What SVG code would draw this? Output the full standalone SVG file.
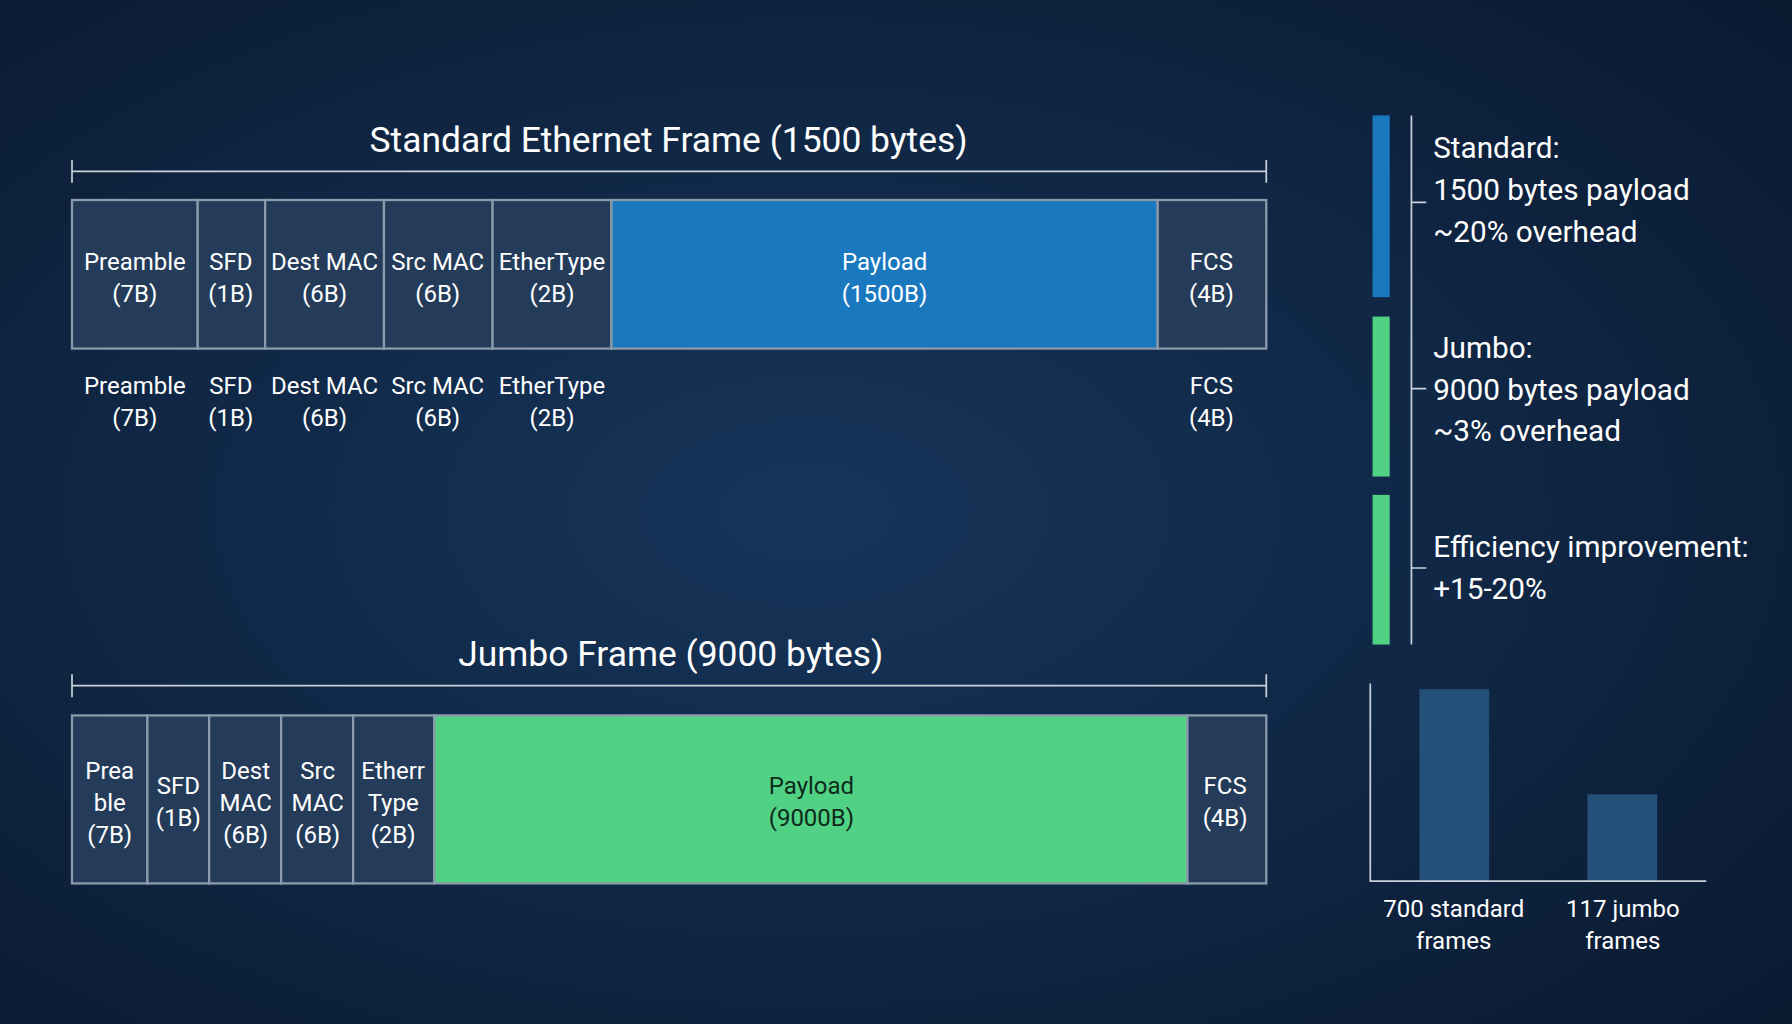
<svg xmlns="http://www.w3.org/2000/svg" width="1792" height="1024" viewBox="0 0 1792 1024">
<defs>
<radialGradient id="bg" cx="0.45" cy="0.5" r="0.75">
<stop offset="0" stop-color="#16355a"/><stop offset="1" stop-color="#0a1930"/>
</radialGradient>
<style>
text{font-family:Roboto,"Liberation Sans",sans-serif;fill:#fff;text-anchor:middle}
.t{font-size:21px}
.h{font-size:31px}
.r{font-size:26px;text-anchor:start}
.c{fill:#243c5a;stroke:#8b9bab;stroke-width:2}
.ln{stroke:#c8d0d8;stroke-width:1.5;fill:none}
.dk{fill:#0d2036}
</style>
</defs>
<rect width="1792" height="1024" fill="url(#bg)"/>
<g transform="scale(1.142857)">
<g id="standard">
<text class="h" x="585" y="133">Standard Ethernet Frame (1500 bytes)</text>
<path class="ln" d="M63 150H1108M63 140V160M1108 140V160"/>
<rect class="c" x="63" y="175" width="110" height="130"/>
<rect class="c" x="173" y="175" width="59" height="130"/>
<rect class="c" x="232" y="175" width="104" height="130"/>
<rect class="c" x="336" y="175" width="95" height="130"/>
<rect class="c" x="431" y="175" width="104" height="130"/>
<rect x="535" y="175" width="478" height="130" fill="#1a78bf" stroke="#8b9bab" stroke-width="2"/>
<rect class="c" x="1013" y="175" width="95" height="130"/>
<g class="t">
<text x="118" y="236">Preamble</text><text x="118" y="264">(7B)</text>
<text x="202" y="236">SFD</text><text x="202" y="264">(1B)</text>
<text x="284" y="236">Dest MAC</text><text x="284" y="264">(6B)</text>
<text x="383" y="236">Src MAC</text><text x="383" y="264">(6B)</text>
<text x="483" y="236">EtherType</text><text x="483" y="264">(2B)</text>
<text x="774" y="236">Payload</text><text x="774" y="264">(1500B)</text>
<text x="1060" y="236">FCS</text><text x="1060" y="264">(4B)</text>
<text x="118" y="345">Preamble</text><text x="118" y="373">(7B)</text>
<text x="202" y="345">SFD</text><text x="202" y="373">(1B)</text>
<text x="284" y="345">Dest MAC</text><text x="284" y="373">(6B)</text>
<text x="383" y="345">Src MAC</text><text x="383" y="373">(6B)</text>
<text x="483" y="345">EtherType</text><text x="483" y="373">(2B)</text>
<text x="1060" y="345">FCS</text><text x="1060" y="373">(4B)</text>
</g>
</g>
<g id="jumbo">
<text class="h" x="587" y="583">Jumbo Frame (9000 bytes)</text>
<path class="ln" d="M63 600H1108M63 590V610M1108 590V610"/>
<rect class="c" x="63" y="626" width="66" height="147"/>
<rect class="c" x="129" y="626" width="54" height="147"/>
<rect class="c" x="183" y="626" width="63" height="147"/>
<rect class="c" x="246" y="626" width="63" height="147"/>
<rect class="c" x="309" y="626" width="71" height="147"/>
<rect x="380" y="626" width="659" height="147" fill="#50d184" stroke="#8b9bab" stroke-width="2"/>
<rect class="c" x="1039" y="626" width="69" height="147"/>
<g class="t">
<text x="96" y="682">Prea</text><text x="96" y="710">ble</text><text x="96" y="738">(7B)</text>
<text x="156" y="695">SFD</text><text x="156" y="723">(1B)</text>
<text x="215" y="682">Dest</text><text x="215" y="710">MAC</text><text x="215" y="738">(6B)</text>
<text x="278" y="682">Src</text><text x="278" y="710">MAC</text><text x="278" y="738">(6B)</text>
<text x="344" y="682">Etherr</text><text x="344" y="710">Type</text><text x="344" y="738">(2B)</text>
<text x="710" y="695" style="fill:#0d2a1c">Payload</text><text x="710" y="723" style="fill:#0d2a1c">(9000B)</text>
<text x="1072" y="695">FCS</text><text x="1072" y="723">(4B)</text>
</g>
</g>
<g id="summary">
<rect x="1201" y="101" width="15" height="159" fill="#1a78bf"/>
<rect x="1201" y="277" width="15" height="140" fill="#50d184"/>
<rect x="1201" y="433" width="15" height="131" fill="#50d184"/>
<path class="ln" d="M1235 101V564M1235 177H1248M1235 340H1248M1235 497H1248"/>
<text class="r" x="1254" y="138">Standard:</text>
<text class="r" x="1254" y="175">1500 bytes payload</text>
<text class="r" x="1254" y="212">~20% overhead</text>
<text class="r" x="1254" y="313">Jumbo:</text>
<text class="r" x="1254" y="350">9000 bytes payload</text>
<text class="r" x="1254" y="386">~3% overhead</text>
<text class="r" x="1254" y="487">Efficiency improvement:</text>
<text class="r" x="1254" y="524">+15-20%</text>
</g>
<g id="chart">
<rect x="1242" y="603" width="61" height="168" fill="#24507a"/>
<rect x="1389" y="695" width="61" height="76" fill="#24507a"/>
<path class="ln" d="M1199 598V771H1493"/>
<g class="t">
<text x="1272" y="802">700 standard</text><text x="1272" y="830">frames</text>
<text x="1420" y="802">117 jumbo</text><text x="1420" y="830">frames</text>
</g>
</g>
</g>
</svg>
